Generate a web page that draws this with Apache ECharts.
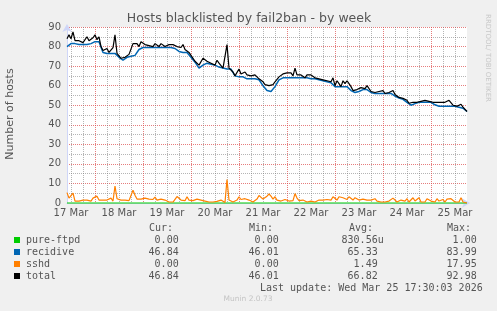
<!DOCTYPE html>
<html><head><meta charset="utf-8">
<script src="https://cdn.jsdelivr.net/npm/echarts@6/dist/echarts.min.js"></script>
<style>html,body{margin:0;padding:0;background:#f0f0f0}#c{width:497px;height:311px}</style>
</head><body><div id="c"></div>
<script>
const chartTitle = 'Hosts blacklisted by fail2ban - by week';
const yAxisName = 'Number of hosts';
const dayLabels = ['17 Mar','18 Mar','19 Mar','20 Mar','21 Mar','22 Mar','23 Mar','24 Mar','25 Mar'];
// hours after 17 Mar 00:00
const startHour = 10;
const endHour = 210;
const yTicks = [0,10,20,30,40,50,60,70,80,90];
const seriesNames = ['pure-ftpd','recidive','sshd','total'];
const seriesColors = ['#00cc00','#0066b3','#ff8000','#000000'];

const pureFtpdStep = 8;
const pureFtpd = [0,0,0,0,0,0,0,0,0,0, 0,0,0,0,0,0,0,0,0,0, 0,0,0,0,0,0];

const recidiveStep = 2;
const recidive = [
80.0,81.5,81.5,81.0,81.0,81.0,81.5,82.5,82.5,77.0,
76.5,76.5,76.5,74.5,73.0,74.5,75.0,75.5,78.5,79.5,
79.5,79.5,79.5,79.5,79.5,79.5,79.5,79.0,77.5,77.0,
77.0,74.5,72.0,69.0,70.5,71.5,71.0,70.5,69.5,69.0,
68.5,68.5,65.0,64.5,64.5,63.5,63.5,63.5,63.0,60.0,
57.5,57.0,59.5,63.0,64.0,64.0,64.0,64.0,64.0,64.0,
64.0,63.5,63.5,63.0,62.5,62.0,61.5,59.5,59.5,59.5,
59.5,57.5,56.5,57.0,58.0,58.0,56.5,56.0,56.0,56.0,
56.0,56.0,54.7,53.7,53.0,51.5,50.0,50.8,51.5,51.5,
51.5,51.5,50.2,49.5,49.5,49.5,49.5,49.5,49.0,48.5,
46.8];

const sshdStep = 1;
const sshd = [
5.3,2.5,2,5,1,0.5,1,0.5,1.5,2.5,
1.5,1,1,2.5,1.5,3.5,1.5,0.8,1.5,1,
1.5,1.2,2.5,1,8.7,2.2,2.5,1.5,1.5,1.5,
1.5,1.2,2,6.5,4,2,1.5,2,1.5,2.5,
1.5,2,1,1.8,3,1.5,0.8,2,1.5,1.5,
2.3,0.5,1.2,0.5,1.5,3.3,2.5,1.5,1.5,1.2,
3.2,1.5,1,1.2,1,2,2.5,1.5,2,1,
1.5,0.5,1.5,0.5,1.2,0.8,0.5,1.5,0.8,0.3,
12,1.5,1,0.5,0.5,1.5,3.2,1.8,1,2.2,
3.2,1.5,1,0.5,1.5,2,3.8,3.2,2,2.5,
3.5,4.6,3.5,2,3.2,1.5,2,1,1,1.8,
1.5,1,1.5,1.2,4.8,2.5,1.2,1,1.5,1,
0.5,1.5,1,1.5,0.5,1,1.5,1,1.5,2.5,
1.8,2.5,1.5,3.2,3.5,1.5,3.2,3.9,2.7,3.2,
1.8,3.2,2.2,1.5,2.7,2.2,1.5,1,2,1,
1.5,1,1.5,0.5,2.2,1,1.5,0.5,1.5,0.5,
1.5,1,0.5,2.5,3.2,0.5,1.5,1.5,2.2,1,
2.2,0.5,1.5,2.7,1,0.8,2.7,0.5,1.5,0.5,
2.2,1.5,1,1.5,0.5,2.2,1,1.5,1.8,0.5,
2,2.7,2.2,1.2,0.5,1,0.5,2.7,0.5,0.2,
0];

const totalStep = 1;
const total = [
84,86,84,87.5,83,82,83,82.5,82,83,
85,83,82,84.5,86,83.5,85,80,78,77,
79,77,77.5,79.5,86,76.5,76,74,74.5,74.5,
75.5,76,77,81.5,82,81.5,80,82.5,83,81,
82,80.5,81,80,81.5,80.5,80,81.5,80.5,80,
80.5,81,80,81,80.5,80,79,79.5,81,78.5,
79.5,77,75.5,74,72.5,72,70.5,71.5,74,73,
72.5,72.5,71.5,71.5,70.5,73,71.5,70.5,69,69,
81,69,69,67,65,66,68.5,66,65,67,
65.5,65,65,65,65.5,66.5,63.5,64,62,60.5,
61,60,61,60.5,62,63,64.5,65,66,65.5,
66.5,66,66.5,65,69,65.5,66.5,65.5,64.5,64,
65.5,66.5,65.5,64.5,64,64,63.5,63,63,62.5,
62.5,62.5,62,64,60,62.5,61,59.5,62.5,61,
62.5,61,59.5,57.5,56.5,58,58.5,59,58,58.5,
60,59.5,57,56.5,56.5,56,57,56,57.5,56,
57,56.5,57,57.5,55.5,54.5,54,54.5,53.5,53,
52.5,51,50,51.5,51,51.5,52.5,52,52,52.5,
53.5,52,51.5,51.5,50.5,51.5,51.5,51.5,52,51.5,
52,52.5,51.5,50,49.5,49.5,49.5,50.5,49,48,
46.8];

const statHeaders = ['Cur:','Min:','Avg:','Max:'];
const statCur = ['0.00','46.84','0.00','46.84'];
const statMin = ['0.00','46.01','0.00','46.01'];
const statAvg = ['830.56u','65.33','1.49','66.82'];
const statMax = ['1.00','83.99','17.95','92.98'];
const lastUpdate = 'Last update: Wed Mar 25 17:30:03 2026';
const footerText = 'Munin 2.0.73';
const sideText = 'RRDTOOL/ TOBI OETIKER';

function pairs(arr, step) { return arr.map((v, i) => [startHour + i * step, v]); }

const majorX = [], minorX = [], labelX = [];
for (let h = 0; h <= endHour; h += 6) {
  if (h < startHour || h >= endHour) continue;
  if (h % 24 === 0) majorX.push(h); else minorX.push(h);
}
for (let k = 0; k < dayLabels.length; k++) labelX.push(12 + 24 * k);

const TXT = '#555';
const redGrid = {color: 'rgba(220,70,70,0.7)', width: 1, type: [1, 1]};
const grayGrid = {color: 'rgba(120,120,120,0.55)', width: 1, type: [1, 1]};
const AXIS = '#cfd6f8';

function text(x, y, s, o) {
  o = o || {};
  return {type: 'text', x: x, y: y, rotation: o.rot || 0, silent: true, z: 100,
    style: {text: s, fill: o.color || TXT, fontSize: o.size || 10,
      fontFamily: o.family || 'DejaVu Sans', align: o.align || 'left', verticalAlign: 'middle'}};
}

const graphics = [];
graphics.push(text(249, 18.5, chartTitle, {size: 12.5, align: 'center'}));
graphics.push(text(10.5, 114, yAxisName, {size: 11, align: 'center', rot: Math.PI / 2}));
graphics.push(text(488, 58, sideText, {size: 7, align: 'center', rot: -Math.PI / 2, color: '#c8c8c8'}));

const MONO = 'DejaVu Sans Mono';
const headerX = [149, 249, 349, 447];
statHeaders.forEach((h, i) => graphics.push(text(headerX[i], 228, h, {family: MONO})));
const rowY = [240, 252, 264, 276];
const colRight = [184.7, 284.7, 383.7, 482.7];
const cols = [statCur, statMin, statAvg, statMax];
seriesNames.forEach((n, r) => {
  graphics.push({type: 'rect', silent: true, z: 100, shape: {x: 14, y: rowY[r] - 3, width: 6, height: 6}, style: {fill: seriesColors[r]}});
  graphics.push(text(26, rowY[r], n, {family: MONO}));
  cols.forEach((col, c) => {
    const v = col[r];
    const hasUnit = /[a-zA-Z]$/.test(v);
    graphics.push(text(hasUnit ? colRight[c] : colRight[c] - 6.02, rowY[r], v, {family: MONO, align: 'right'}));
  });
});
graphics.push(text(482.7, 288, lastUpdate, {family: MONO, align: 'right'}));
graphics.push(text(248, 299.5, footerText, {size: 7.5, align: 'center', color: '#c4c4c4'}));

const dataSets = [pairs(pureFtpd, pureFtpdStep), pairs(recidive, recidiveStep), pairs(sshd, sshdStep), pairs(total, totalStep)];
const widths = [1.2, 1.5, 1.2, 1.2];

const chart = echarts.init(document.getElementById('c'), null, {renderer: 'canvas'});
chart.setOption({
  backgroundColor: '#f0f0f0',
  animation: false,
  grid: {left: 67, top: 27, width: 400, height: 176, show: true, backgroundColor: '#ffffff', borderWidth: 0},
  xAxis: [{
    type: 'value', min: startHour, max: endHour, position: 'bottom',
    axisLine: {show: true, lineStyle: {color: AXIS, width: 1}, symbol: ['none', 'arrow'], symbolSize: [7, 8], symbolOffset: [0, 3]},
    axisTick: {show: false, customValues: majorX},
    axisLabel: {customValues: labelX, color: TXT, fontSize: 10, fontFamily: 'DejaVu Sans', margin: 5,
      formatter: v => dayLabels[Math.round((v - 12) / 24)]},
    splitLine: {show: true, lineStyle: redGrid}
  }, {
    type: 'value', min: startHour, max: endHour, position: 'bottom',
    axisLine: {show: false}, axisLabel: {show: false},
    axisTick: {show: false, customValues: minorX},
    splitLine: {show: true, lineStyle: grayGrid}
  }],
  yAxis: {
    type: 'value', min: yTicks[0], max: yTicks[yTicks.length - 1], interval: 10,
    axisLine: {show: true, lineStyle: {color: AXIS, width: 1}, symbol: ['none', 'arrow'], symbolSize: [7, 8], symbolOffset: [0, 3]},
    axisTick: {show: false},
    axisLabel: {color: TXT, fontSize: 10, fontFamily: 'DejaVu Sans', margin: 6},
    splitLine: {show: true, lineStyle: redGrid},
    minorTick: {show: false, splitNumber: 2},
    minorSplitLine: {show: true, lineStyle: grayGrid}
  },
  series: seriesNames.map((n, i) => ({
    name: n, type: 'line', xAxisIndex: 0, data: dataSets[i], showSymbol: false, symbol: 'none',
    clip: false, lineStyle: {color: seriesColors[i], width: widths[i]}, itemStyle: {color: seriesColors[i]},
    z: 2 + i
  })),
  graphic: graphics
});
</script></body></html>
